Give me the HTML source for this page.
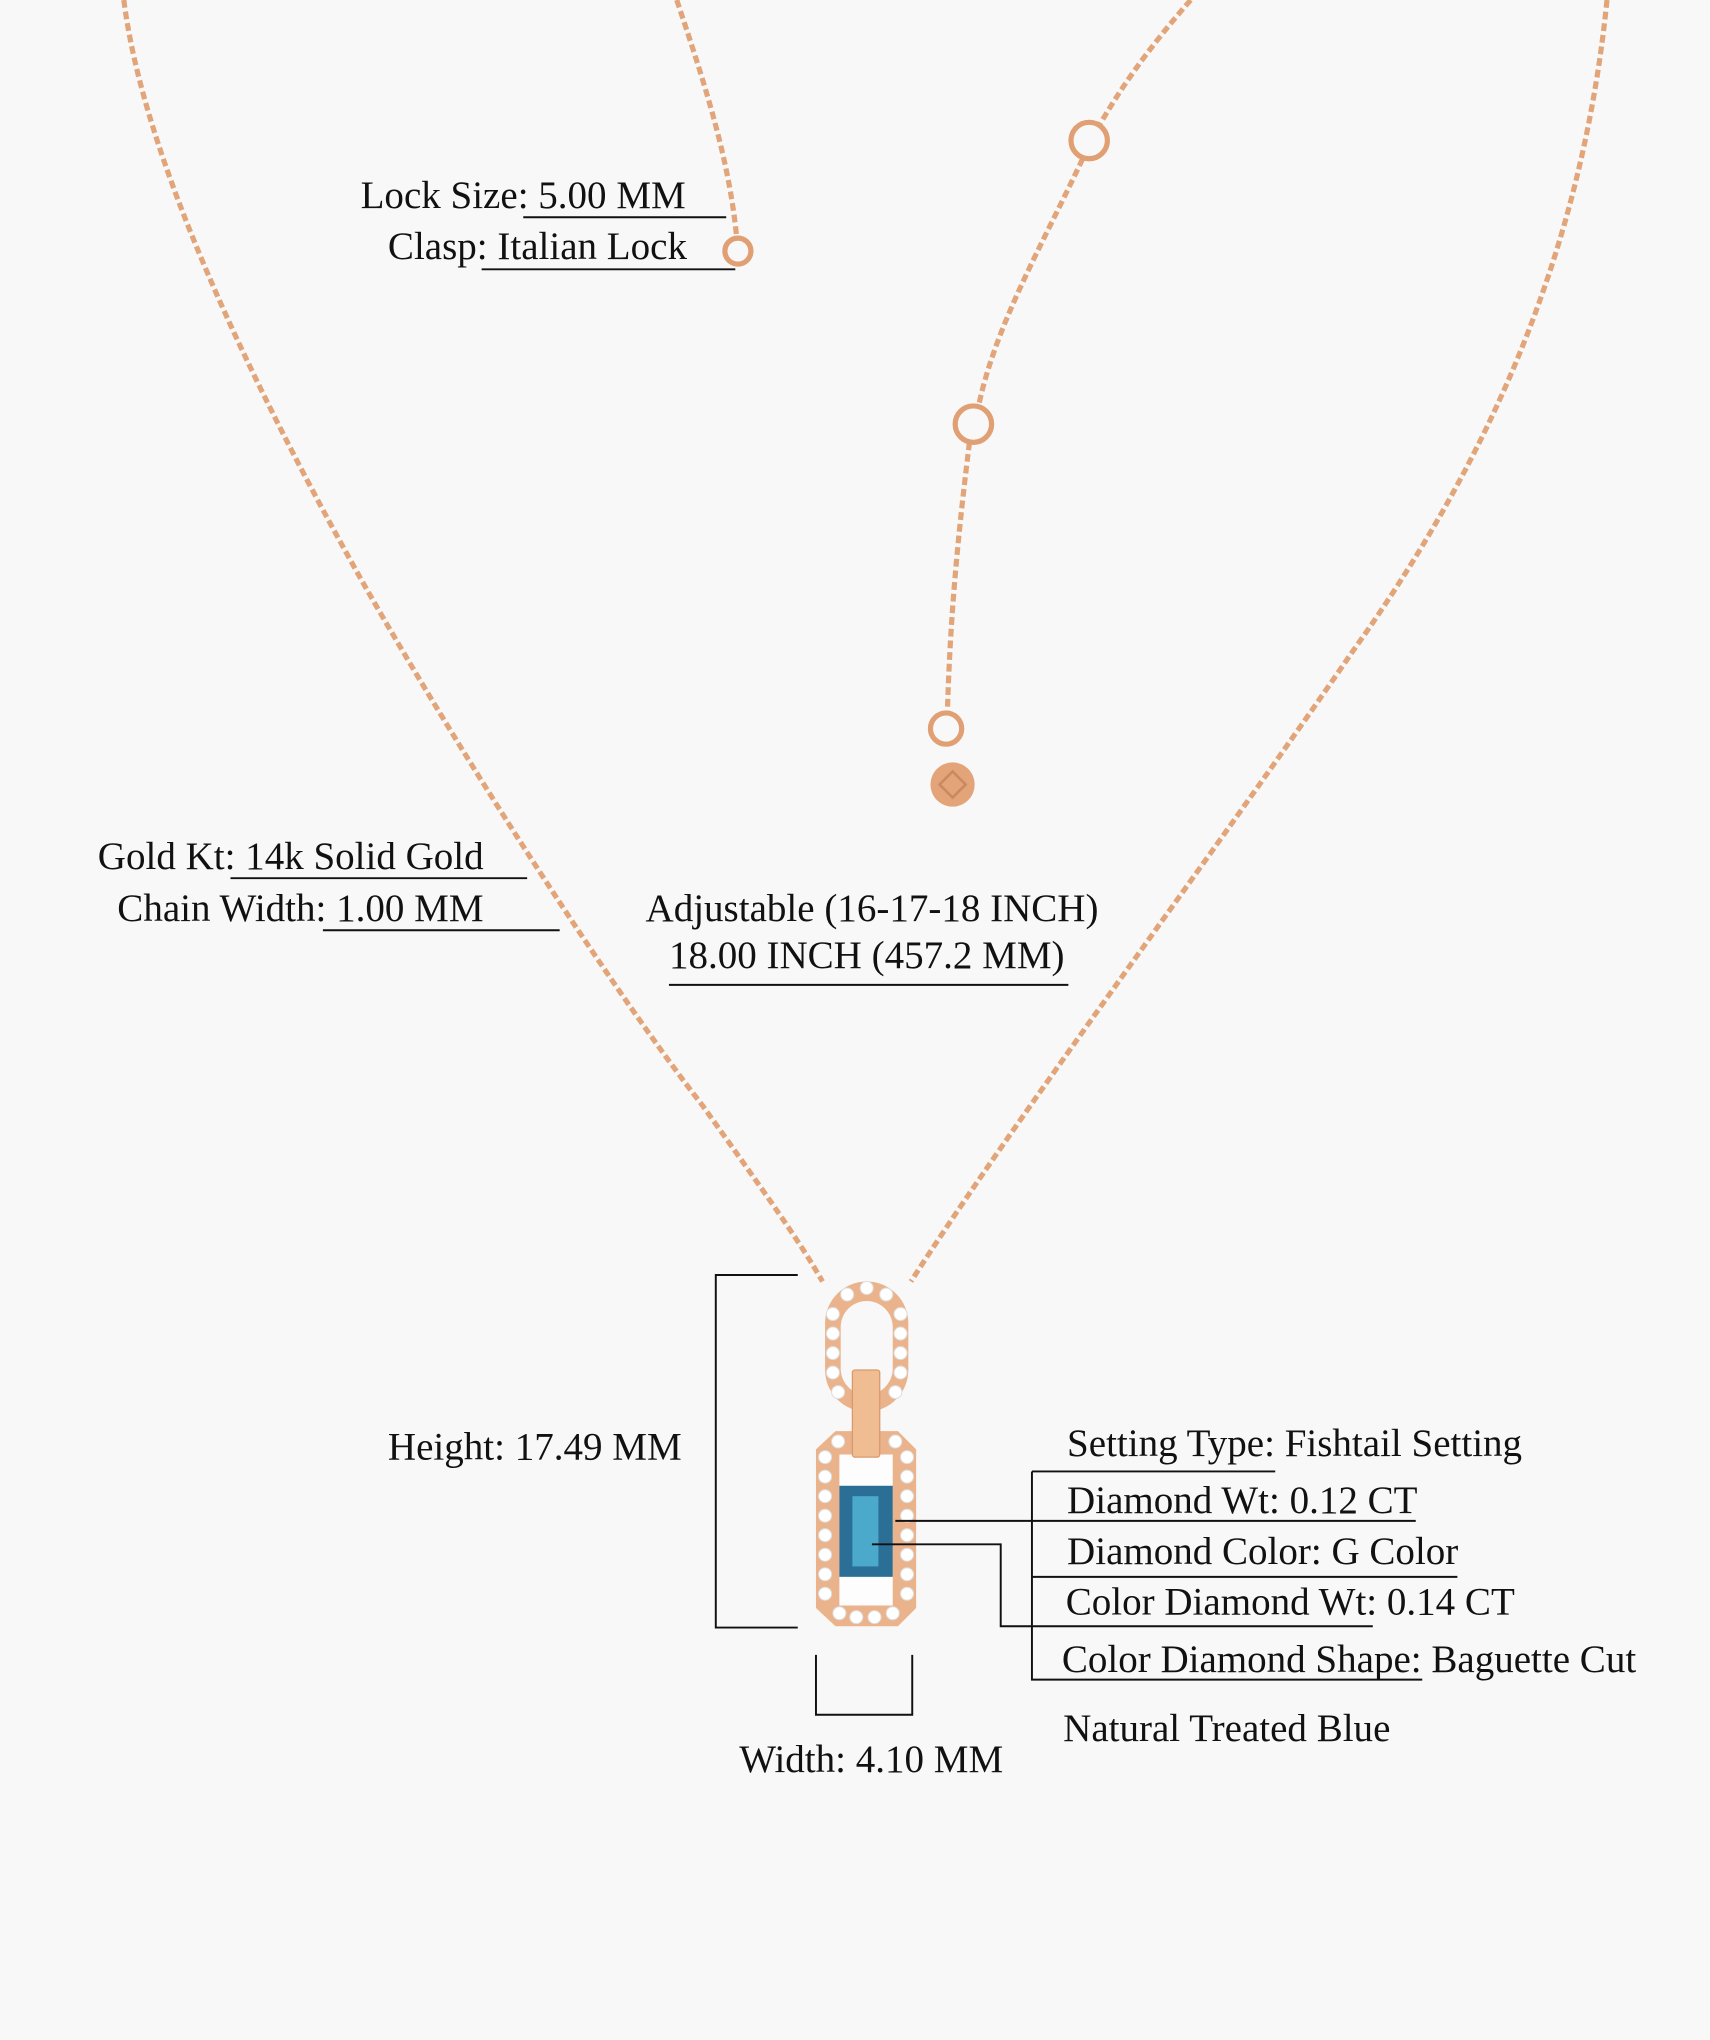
<!DOCTYPE html>
<html><head><meta charset="utf-8"><style>
html,body{margin:0;padding:0;background:#f8f8f8;}
svg{display:block}
text{font-family:"Liberation Serif",serif;font-size:30px;fill:#111}
</style></head><body>
<svg width="1710" height="2040" viewBox="0 0 1314 1568" xmlns="http://www.w3.org/2000/svg">
<rect width="1314" height="1568" fill="#f8f8f8"/>
<g fill="none" stroke="#e2a57a" stroke-width="4" stroke-dasharray="6 3" stroke-linecap="butt">
<path d="M95,0 C110,120 190,290 280,450 C360,590 470,760 540,850 C590,920 615,955 632,985"/>
<path d="M1235,0 C1215,200 1140,360 1040,500 C930,660 780,860 700,985"/>
<path d="M520,0 C540,60 560,120 566,182"/>
<path d="M915,0 C880,40 860,70 845,96"/>
<path d="M832,122 C800,190 765,250 752,312"/>
<path d="M745,340 C735,420 730,480 728,548"/>
</g>
<g fill="none" stroke="#e0a074" stroke-width="4">
<circle cx="567" cy="193" r="10"/>
<circle cx="837" cy="108" r="14"/>
<circle cx="748" cy="326" r="14"/>
<circle cx="727" cy="560" r="12"/>
</g>
<circle cx="732" cy="603" r="17" fill="#e3a47a"/>
<path d="M722,603 L732,593 L742,603 L732,613Z" fill="none" stroke="#c98a60" stroke-width="2"/>
<rect x="634" y="985" width="64" height="100" rx="32" fill="#eab38b"/>
<rect x="646" y="1000" width="40" height="72" rx="20" fill="#f8f8f8"/>
<path d="M642,1100 L690,1100 L704,1114 L704,1236 L690,1250 L642,1250 L627,1236 L627,1114Z" fill="#eab38b"/>
<path d="M645,1118 L686,1118 L686,1234 L645,1234Z" fill="#fdfdfd"/>
<rect x="655" y="1053" width="21" height="67" rx="2" fill="#f0bd92" stroke="#d89a6c" stroke-width="1"/>
<rect x="645" y="1142" width="41" height="70" fill="#2b6f96"/>
<rect x="655" y="1150" width="20" height="54" fill="#4ba9cb"/>
<g fill="#fff" stroke="#ddd" stroke-width="0.8">
<circle cx="651" cy="995" r="5"/><circle cx="666" cy="990" r="5"/><circle cx="681" cy="995" r="5"/>
<circle cx="640" cy="1010" r="5"/><circle cx="640" cy="1025" r="5"/><circle cx="640" cy="1040" r="5"/><circle cx="640" cy="1055" r="5"/><circle cx="644" cy="1070" r="5"/>
<circle cx="692" cy="1010" r="5"/><circle cx="692" cy="1025" r="5"/><circle cx="692" cy="1040" r="5"/><circle cx="692" cy="1055" r="5"/><circle cx="688" cy="1070" r="5"/>
<circle cx="644" cy="1108" r="5"/><circle cx="688" cy="1108" r="5"/>
<circle cx="634" cy="1120" r="5"/><circle cx="634" cy="1135" r="5"/><circle cx="634" cy="1150" r="5"/><circle cx="634" cy="1165" r="5"/><circle cx="634" cy="1180" r="5"/><circle cx="634" cy="1195" r="5"/><circle cx="634" cy="1210" r="5"/><circle cx="634" cy="1225" r="5"/>
<circle cx="697" cy="1120" r="5"/><circle cx="697" cy="1135" r="5"/><circle cx="697" cy="1150" r="5"/><circle cx="697" cy="1165" r="5"/><circle cx="697" cy="1180" r="5"/><circle cx="697" cy="1195" r="5"/><circle cx="697" cy="1210" r="5"/><circle cx="697" cy="1225" r="5"/>
<circle cx="645" cy="1240" r="5"/><circle cx="658" cy="1243" r="5"/><circle cx="672" cy="1243" r="5"/><circle cx="686" cy="1240" r="5"/>
</g>
<g fill="none" stroke="#111" stroke-width="1.5">
<path d="M402,167 H558"/><path d="M370,207 H565"/>
<path d="M177,675 H405"/><path d="M248,715 H430"/>
<path d="M514,757 H821"/>
<path d="M613,980 H550 V1251 H613"/>
<path d="M627,1272 V1318 H701 V1272"/>
<path d="M793,1131 H980"/><path d="M793,1131 V1291 H1093"/>
<path d="M688,1169 H1088"/>
<path d="M793,1212 H1120"/>
<path d="M670,1187 H769 V1250 H1055"/>
</g>
<text x="277" y="160">Lock Size: 5.00 MM</text>
<text x="298" y="199">Clasp: Italian Lock</text>
<text x="75" y="668">Gold Kt: 14k Solid Gold</text>
<text x="90" y="708">Chain Width: 1.00 MM</text>
<text x="496" y="708">Adjustable (16-17-18 INCH)</text>
<text x="514" y="744">18.00 INCH (457.2 MM)</text>
<text x="298" y="1122">Height: 17.49 MM</text>
<text x="568" y="1362">Width: 4.10 MM</text>
<text x="820" y="1119">Setting Type: Fishtail Setting</text>
<text x="820" y="1163">Diamond Wt: 0.12 CT</text>
<text x="820" y="1202">Diamond Color: G Color</text>
<text x="819" y="1241">Color Diamond Wt: 0.14 CT</text>
<text x="816" y="1285">Color Diamond Shape: Baguette Cut</text>
<text x="817" y="1338">Natural Treated Blue</text>
</svg>
</body></html>
